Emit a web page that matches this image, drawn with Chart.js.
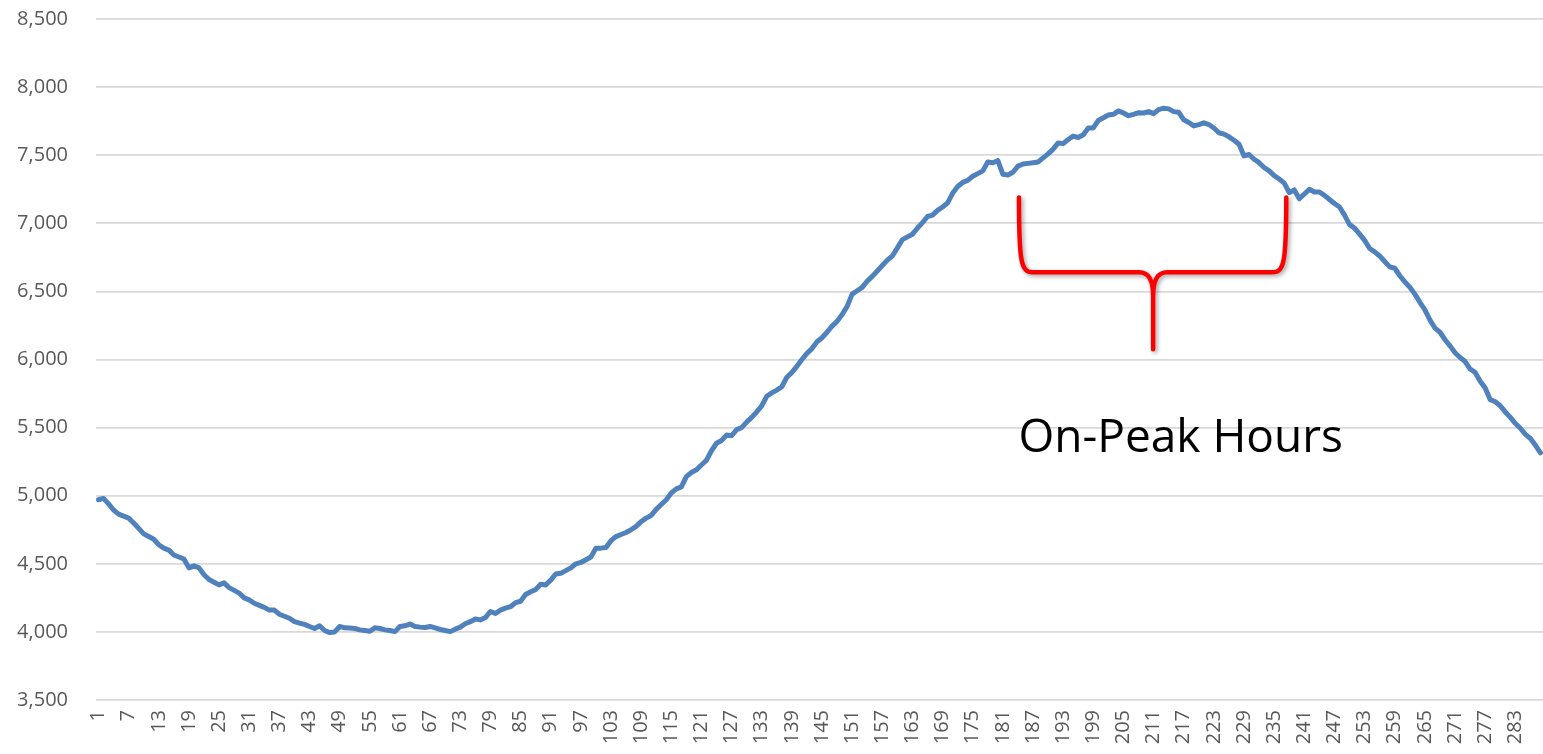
<!DOCTYPE html>
<html>
<head>
<meta charset="utf-8">
<script src="https://cdn.jsdelivr.net/npm/chart.js@4.4.1/dist/chart.umd.min.js"></script>
<style>
html,body{margin:0;padding:0;background:#fff;}
#wrap{position:relative;width:1543px;height:754px;}
</style>
</head>
<body>
<div id="wrap"><canvas id="c" width="1543" height="754"></canvas></div>
<script>
// Categories: 5-minute intervals 1..288
const categories = Array.from({length: 288}, (_, i) => String(i + 1));

// Load values
const loadValues = [
  4970,4980,4940,4895,4865,4850,4835,4800,4760,4720,
  4700,4680,4640,4615,4600,4565,4550,4535,4470,4485,
  4470,4420,4385,4365,4345,4360,4325,4305,4285,4250,
  4235,4210,4195,4180,4160,4160,4130,4115,4100,4075,
  4065,4055,4040,4025,4045,4010,3995,4000,4040,4030,
  4028,4025,4015,4010,4005,4030,4025,4015,4010,4002,
  4040,4045,4058,4040,4035,4032,4040,4030,4018,4010,
  4002,4020,4035,4060,4075,4095,4088,4105,4150,4135,
  4160,4175,4185,4215,4225,4275,4295,4310,4350,4345,
  4380,4425,4430,4450,4470,4500,4510,4530,4550,4615,
  4615,4620,4670,4700,4715,4730,4750,4775,4810,4835,
  4855,4900,4935,4970,5020,5050,5065,5140,5170,5190,
  5225,5260,5330,5385,5405,5445,5440,5485,5500,5540,
  5575,5615,5660,5730,5755,5775,5800,5870,5905,5950,
  6000,6045,6080,6130,6160,6200,6245,6280,6330,6390,
  6480,6505,6530,6575,6610,6650,6690,6730,6760,6820,
  6880,6900,6920,6965,7005,7050,7060,7095,7120,7150,
  7220,7270,7300,7315,7345,7365,7385,7450,7445,7460,
  7360,7355,7375,7420,7435,7440,7445,7450,7480,7510,
  7545,7590,7585,7615,7640,7630,7650,7700,7700,7755,
  7775,7795,7800,7825,7810,7790,7800,7812,7810,7820,
  7805,7835,7845,7840,7820,7815,7760,7740,7715,7725,
  7738,7725,7700,7665,7655,7635,7610,7580,7495,7505,
  7470,7445,7410,7385,7350,7325,7295,7225,7245,7180,
  7215,7250,7230,7230,7205,7175,7145,7120,7060,6990,
  6965,6920,6875,6815,6790,6760,6720,6680,6670,6615,
  6570,6530,6480,6420,6365,6290,6230,6200,6145,6100,
  6050,6015,5985,5930,5905,5840,5790,5705,5690,5660,
  5615,5575,5530,5495,5450,5420,5370,5315
];

// Y axis ticks
const yTicks = [3500,4000,4500,5000,5500,6000,6500,7000,7500,8000,8500];
// Show every 6th category label
const xTickStep = 6;

// Annotation (brace) in data space: 1-based category positions and values
const braceCats = [184.2, 210.9, 237.4];
const braceValues = {top: 7190, bar: 6640, tip: 6075};
const annotationText = "On-Peak Hours";
const annotationPos = {cat: 184.5, value: 5321};

const bracePlugin = {
  id: 'brace',
  afterDatasetsDraw(chart) {
    const ctx = chart.ctx;
    const xs = chart.scales.x, ys = chart.scales.y;
    const xL = xs.getPixelForValue(braceCats[0] - 1);
    const xM = xs.getPixelForValue(braceCats[1] - 1);
    const xR = xs.getPixelForValue(braceCats[2] - 1);
    const yT = ys.getPixelForValue(braceValues.top);
    const yB = ys.getPixelForValue(braceValues.bar);
    const yP = ys.getPixelForValue(braceValues.tip);
    ctx.save();
    ctx.strokeStyle = '#FF0000';
    ctx.lineWidth = 4.5;
    ctx.lineCap = 'round';
    ctx.lineJoin = 'round';
    ctx.shadowColor = 'rgba(0,0,0,0.35)';
    ctx.shadowBlur = 4;
    ctx.shadowOffsetX = 2;
    ctx.shadowOffsetY = 2;
    ctx.beginPath();
    ctx.moveTo(xL, yT);
    ctx.bezierCurveTo(xL, yB - 10, xL + 2, yB, xL + 14, yB);
    ctx.lineTo(xM - 14, yB);
    ctx.bezierCurveTo(xM - 4, yB, xM, yB + 8, xM, yB + 24);
    ctx.lineTo(xM, yP);
    ctx.moveTo(xM, yB + 24);
    ctx.bezierCurveTo(xM, yB + 8, xM + 4, yB, xM + 14, yB);
    ctx.lineTo(xR - 14, yB);
    ctx.bezierCurveTo(xR - 2, yB, xR, yB - 10, xR, yT);
    ctx.stroke();
    ctx.restore();

    ctx.save();
    ctx.fillStyle = '#000000';
    ctx.font = '46px "Open Sans"';
    ctx.textAlign = 'left';
    ctx.textBaseline = 'alphabetic';
    ctx.fillText(annotationText, xs.getPixelForValue(annotationPos.cat - 1) - 2, ys.getPixelForValue(annotationPos.value));
    ctx.restore();
  }
};

new Chart(document.getElementById('c'), {
  type: 'line',
  data: {
    labels: categories,
    datasets: [{
      data: loadValues,
      borderColor: '#4F81BD',
      borderWidth: 5,
      pointRadius: 0,
      tension: 0,
      fill: false,
      borderJoinStyle: 'round',
      borderCapStyle: 'round'
    }]
  },
  options: {
    responsive: false,
    animation: false,
    devicePixelRatio: 1,
    layout: {padding: {top: 19, right: 0, bottom: 0, left: 0}},
    plugins: {legend: {display: false}, tooltip: {enabled: false}},
    scales: {
      x: {
        offset: true,
        grid: {display: false, drawTicks: false},
        border: {display: false},
        ticks: {
          autoSkip: false,
          maxRotation: 90,
          minRotation: 90,
          padding: 10,
          color: '#595959',
          font: {family: '"Open Sans"', size: 20},
          callback: function(val, idx) { return idx % xTickStep === 0 ? categories[idx] : ''; }
        },
        afterFit(scale) { scale.height = 54; scale.paddingLeft = 0; scale.paddingRight = 0; }
      },
      y: {
        min: yTicks[0],
        max: yTicks[yTicks.length - 1],
        afterBuildTicks(scale) { scale.ticks = yTicks.map(v => ({value: v})); },
        grid: {color: '#D9D9D9', lineWidth: 1.8, drawTicks: false},
        border: {display: false},
        ticks: {
          padding: 28,
          color: '#595959',
          font: {family: '"Open Sans"', size: 20},
          callback: v => Number(v).toLocaleString('en-US')
        },
        afterFit(scale) { scale.width = 96; scale.paddingTop = 0; scale.paddingBottom = 0; }
      }
    }
  },
  plugins: [bracePlugin]
});
</script>
</body>
</html>
